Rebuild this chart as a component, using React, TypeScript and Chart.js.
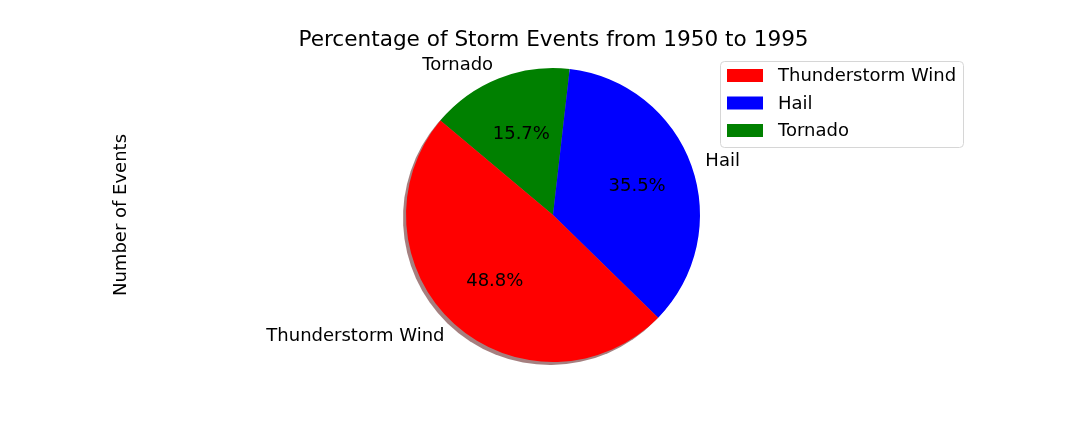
import React, { useEffect, useRef } from "react";
import { Chart, registerables } from "chart.js";

Chart.register(...registerables);

const categories = ["Thunderstorm Wind", "Hail", "Tornado"];
const percentages = [48.8, 35.5, 15.7];
const colors = ["#ff0000", "#0000ff", "#008000"];
const shadowColors = ["rgba(76,0,0,0.5)", "rgba(0,0,76,0.5)", "rgba(0,38,0,0.5)"];
const titleText = "Percentage of Storm Events from 1950 to 1995";
const yLabelText = "Number of Events";

const FONT = "'DejaVu Sans', 'Liberation Sans', sans-serif";

// Chart.js draws clockwise; matplotlib draws counter-clockwise, so reverse order.
const drawOrder = [2, 1, 0];

export default function App() {
  const canvasRef = useRef<HTMLCanvasElement | null>(null);

  useEffect(() => {
    document.body.style.margin = "0";
    const canvas = canvasRef.current;
    if (!canvas) return;

    const shadowPlugin = {
      id: "mplShadow",
      beforeDatasetsDraw(chart: any) {
        const ctx = chart.ctx;
        const meta = chart.getDatasetMeta(0);
        ctx.save();
        meta.data.forEach((arc: any, i: number) => {
          const { x, y, startAngle, endAngle, outerRadius } = arc.getProps(
            ["x", "y", "startAngle", "endAngle", "outerRadius"],
            true
          );
          const ox = x - 3;
          const oy = y + 3;
          ctx.beginPath();
          ctx.moveTo(ox, oy);
          ctx.arc(ox, oy, outerRadius, startAngle, endAngle);
          ctx.closePath();
          ctx.fillStyle = shadowColors[drawOrder[i]];
          ctx.fill();
        });
        ctx.restore();
      },
    };

    const textPlugin = {
      id: "mplText",
      afterDraw(chart: any) {
        const ctx = chart.ctx;
        const meta = chart.getDatasetMeta(0);
        ctx.save();
        ctx.fillStyle = "#000000";

        // Title
        ctx.font = `21.6px ${FONT}`;
        ctx.textAlign = "center";
        ctx.textBaseline = "alphabetic";
        const area = chart.chartArea;
        ctx.fillText(titleText, (area.left + area.right) / 2 + 0.5, 46);

        // Slice labels & percentages
        ctx.font = `18px ${FONT}`;
        meta.data.forEach((arc: any, i: number) => {
          const idx = drawOrder[i];
          const { x, y, startAngle, endAngle, outerRadius } = arc.getProps(
            ["x", "y", "startAngle", "endAngle", "outerRadius"],
            true
          );
          const mid = (startAngle + endAngle) / 2;
          const cx = Math.cos(mid);
          const cy = Math.sin(mid);
          // outer label at 1.1 r
          const lx = x + cx * outerRadius * 1.1;
          const ly = y + cy * outerRadius * 1.1 + 1;
          ctx.textAlign = cx > 0 ? "left" : "right";
          ctx.textBaseline = "middle";
          ctx.fillText(categories[idx], lx, ly);
          // pct label at 0.6 r
          const px = x + cx * outerRadius * 0.6 + 1;
          const py = y + cy * outerRadius * 0.6 + 1;
          ctx.textAlign = "center";
          ctx.fillText(percentages[idx].toFixed(1) + "%", px, py);
        });

        // Y label
        ctx.save();
        ctx.translate(121, (area.top + area.bottom) / 2);
        ctx.rotate(-Math.PI / 2);
        ctx.textAlign = "center";
        ctx.textBaseline = "middle";
        ctx.fillText(yLabelText, 0, 0);
        ctx.restore();

        // Legend
        const lx0 = 720.5, ly0 = 61.5, lw = 243, lh = 86, r = 4;
        ctx.beginPath();
        ctx.moveTo(lx0 + r, ly0);
        ctx.lineTo(lx0 + lw - r, ly0);
        ctx.quadraticCurveTo(lx0 + lw, ly0, lx0 + lw, ly0 + r);
        ctx.lineTo(lx0 + lw, ly0 + lh - r);
        ctx.quadraticCurveTo(lx0 + lw, ly0 + lh, lx0 + lw - r, ly0 + lh);
        ctx.lineTo(lx0 + r, ly0 + lh);
        ctx.quadraticCurveTo(lx0, ly0 + lh, lx0, ly0 + lh - r);
        ctx.lineTo(lx0, ly0 + r);
        ctx.quadraticCurveTo(lx0, ly0, lx0 + r, ly0);
        ctx.closePath();
        ctx.fillStyle = "rgba(255,255,255,0.8)";
        ctx.fill();
        ctx.strokeStyle = "#d6d6d6";
        ctx.lineWidth = 1;
        ctx.stroke();

        categories.forEach((name, i) => {
          const rowY = 75.5 + i * 27.5;
          ctx.fillStyle = colors[i];
          ctx.fillRect(727, rowY - 6.5, 36, 13);
          ctx.fillStyle = "#000000";
          ctx.textAlign = "left";
          ctx.textBaseline = "middle";
          ctx.fillText(name, 778, rowY + 1);
        });

        ctx.restore();
      },
    };

    const chart = new Chart(canvas, {
      type: "pie",
      data: {
        labels: drawOrder.map((i) => categories[i]),
        datasets: [
          {
            data: drawOrder.map((i) => percentages[i]),
            backgroundColor: drawOrder.map((i) => colors[i]),
            borderWidth: 0,
            hoverOffset: 0,
            offset: 0,
          },
        ],
      },
      options: {
        responsive: false,
        animation: false,
        rotation: -50,
        layout: { padding: { left: 406, right: 380, top: 68, bottom: 70 } },
        plugins: {
          legend: { display: false },
          title: { display: false },
          tooltip: { enabled: false },
        },
        events: [],
      },
      plugins: [shadowPlugin, textPlugin],
    });

    return () => chart.destroy();
  }, []);

  return (
    <div style={{ width: 1080, height: 432, background: "#ffffff" }}>
      <canvas ref={canvasRef} width={1080} height={432} style={{ display: "block" }} />
    </div>
  );
}
